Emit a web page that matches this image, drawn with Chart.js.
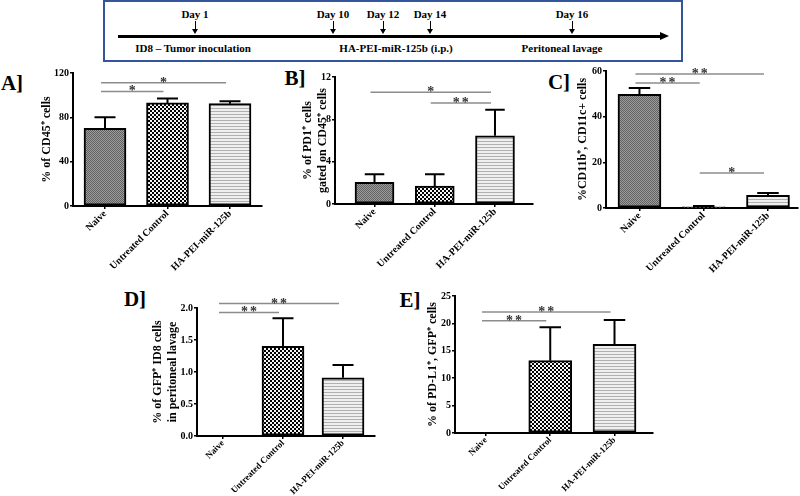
<!DOCTYPE html>
<html>
<head>
<meta charset="utf-8">
<script src="https://cdn.jsdelivr.net/npm/chart.js@4.4.1/dist/chart.umd.min.js"></script>
<style>
  html, body { margin: 0; padding: 0; background: #fff; }
  body { width: 800px; height: 496px; position: relative; overflow: hidden;
         font-family: "Liberation Serif", "Times New Roman", serif; font-weight: bold; color: #000; }
  canvas.panel { position: absolute; }
  .abs { position: absolute; white-space: nowrap; }
  .center { transform: translate(-50%, -50%); }
  .letter { font-size: 21px; line-height: 21px; }
  .tl-text { font-size: 11px; line-height: 12px; }
  #tlBox { left: 103px; top: 0; width: 580px; height: 62px; box-sizing: border-box; border: 2px solid #34559b; }
  #tlLine { left: 118px; top: 35px; width: 544px; height: 2.5px; background: #000; }
  #tlHead { left: 660px; top: 32px; width: 0; height: 0; border-left: 9px solid #000;
            border-top: 4.5px solid transparent; border-bottom: 4.5px solid transparent; }
  .tick-arrow { width: 1px; height: 9px; background: #000; top: 21px; }
  .tick-head { width: 0; height: 0; top: 29px; border-top: 5px solid #000;
               border-left: 3px solid transparent; border-right: 3px solid transparent; }
</style>
</head>
<body>
<div id="tlBox" class="abs"></div>
<div id="tlLine" class="abs"></div>
<div id="tlHead" class="abs"></div>
<div id="timeline"></div>

<div class="abs center letter" style="left:12px; top:83px;">A]</div>
<div class="abs center letter" style="left:295px; top:78px;">B]</div>
<div class="abs center letter" style="left:559px; top:82px;">C]</div>
<div class="abs center letter" style="left:135px; top:299px;">D]</div>
<div class="abs center letter" style="left:410px; top:300px;">E]</div>

<canvas id="chartA" class="panel"></canvas>
<canvas id="chartB" class="panel"></canvas>
<canvas id="chartC" class="panel"></canvas>
<canvas id="chartD" class="panel"></canvas>
<canvas id="chartE" class="panel"></canvas>

<script>
// ---- data ----
const categories = ['Naive', 'Untreated Control', 'HA-PEI-miR-125b'];

// timeline
const timelineDays = ['Day 1', 'Day 10', 'Day 12', 'Day 14', 'Day 16'];
const timelineSteps = ['ID8 \u2013 Tumor inoculation', 'HA-PEI-miR-125b (i.p.)', 'Peritoneal lavage'];

// A) % CD45+
const cd45Mean = [70, 93, 92.3];
const cd45Upper = [80, 97, 94.5];
const cd45Sig = [
  { from: 0, to: 2, y: 111.3, label: '*' },
  { from: 0, to: 1, y: 103.4, label: '*' }
];

// B) % PD1+ gated on CD45+
const pd1Mean = [2.05, 1.7, 6.45];
const pd1Upper = [2.8, 2.8, 8.9];
const pd1Sig = [
  { from: 0, to: 2, y: 10.55, label: '*' },
  { from: 1, to: 2, y: 9.55, label: '**' }
];

// C) % CD11b+, CD11c+
const cd11Mean = [49.8, 0.5, 5.5];
const cd11Upper = [52.6, 0.9, 6.6];
const cd11Sig = [
  { from: 0, to: 2, y: 58.7, label: '**' },
  { from: 0, to: 1, y: 54.7, label: '**' },
  { from: 1, to: 2, y: 15.3, label: '*' }
];

// D) % GFP+ ID8 cells in peritoneal lavage
const gfpMean = [0, 1.4, 0.91];
const gfpUpper = [null, 1.84, 1.11];
const gfpSig = [
  { from: 0, to: 2, y: 2.07, label: '**' },
  { from: 0, to: 1, y: 1.93, label: '**' }
];

// E) % PD-L1+, GFP+
const pdl1Mean = [0, 13.2, 16.2];
const pdl1Upper = [null, 19.3, 20.6];
const pdl1Sig = [
  { from: 0, to: 2, y: 22.1, label: '**' },
  { from: 0, to: 1, y: 20.5, label: '**' }
];

// ---- timeline (plain html) ----
const dayX = [195, 333, 383, 430, 572];
const stepX = [193, 396, 562];
const tl = document.getElementById('timeline');
timelineDays.forEach((d, i) => {
  tl.insertAdjacentHTML('beforeend',
    `<div class="abs center tl-text" style="left:${dayX[i]}px; top:14px;">${d}</div>` +
    `<div class="abs tick-arrow" style="left:${dayX[i] - 0.5}px;"></div>` +
    `<div class="abs tick-head" style="left:${dayX[i] - 3}px;"></div>`);
});
timelineSteps.forEach((s, i) => {
  tl.insertAdjacentHTML('beforeend',
    `<div class="abs center tl-text" style="left:${stepX[i]}px; top:48px;">${s}</div>`);
});

// ---- chart helpers ----
Chart.defaults.font.family = '"Liberation Serif", "Times New Roman", serif';
Chart.defaults.font.weight = 'bold';
Chart.defaults.color = '#000';

function makePattern(ctx, size, draw) {
  const c = document.createElement('canvas');
  c.width = c.height = size;
  draw(c.getContext('2d'));
  return ctx.createPattern(c, 'repeat');
}

function barFills(ctx) {
  const naive = makePattern(ctx, 2, g => {
    g.fillStyle = '#9c9c9c'; g.fillRect(0, 0, 2, 2);
    g.fillStyle = '#626262'; g.fillRect(0, 0, 1, 1); g.fillRect(1, 1, 1, 1);
  });
  const untreated = makePattern(ctx, 4, g => {
    g.fillStyle = '#f4f4f4'; g.fillRect(0, 0, 4, 4);
    g.fillStyle = '#000'; g.fillRect(0, 0, 2, 2); g.fillRect(2, 2, 2, 2);
  });
  const ha = makePattern(ctx, 3, g => {
    g.fillStyle = '#efefef'; g.fillRect(0, 0, 3, 3);
    g.fillStyle = '#b0b0b0'; g.fillRect(0, 0, 3, 1);
  });
  return [naive, untreated, ha];
}

// upper error bar: line from bar top to upper value, with a cap
const errorBarPlugin = {
  id: 'errorBars',
  afterDatasetsDraw(chart, args, opts) {
    const { ctx } = chart;
    const ys = chart.scales.y;
    const meta = chart.getDatasetMeta(0);
    ctx.save();
    ctx.strokeStyle = '#000';
    ctx.lineWidth = 2;
    opts.values.forEach((v, i) => {
      if (v == null) return;
      const bar = meta.data[i];
      const top = ys.getPixelForValue(v);
      const half = bar.width / 4;
      ctx.beginPath();
      ctx.moveTo(bar.x, bar.y);
      ctx.lineTo(bar.x, top);
      ctx.moveTo(bar.x - half, top);
      ctx.lineTo(bar.x + half, top);
      ctx.stroke();
    });
    ctx.restore();
  }
};

// significance brackets
const sigPlugin = {
  id: 'sigLines',
  afterDraw(chart, args, opts) {
    const { ctx } = chart;
    const xs = chart.scales.x, ys = chart.scales.y;
    ctx.save();
    opts.items.forEach(s => {
      const x1 = xs.getPixelForValue(s.from) - 4;
      const x2 = xs.getPixelForValue(s.to) - 4;
      const yy = ys.getPixelForValue(s.y);
      ctx.strokeStyle = '#8c8c8c';
      ctx.lineWidth = 1.5;
      ctx.beginPath();
      ctx.moveTo(x1, yy);
      ctx.lineTo(x2, yy);
      ctx.stroke();
      ctx.fillStyle = '#333';
      ctx.font = 'bold 14px "Liberation Serif", serif';
      ctx.textAlign = 'center';
      ctx.textBaseline = 'alphabetic';
      ctx.letterSpacing = '2px';
      ctx.fillText(s.label, (x1 + x2) / 2 + 1, yy + 4);
    });
    ctx.restore();
  }
};

const axisGrid = { display: true, drawOnChartArea: false, drawTicks: true, tickLength: 3, color: '#000', lineWidth: 1.5 };
const axisBorder = { display: true, color: '#000', width: 2 };

function buildPanel(id, p) {
  const canvas = document.getElementById(id);
  const [L, T, R, B] = p.canvas;
  const a = p.area;
  canvas.width = R - L; canvas.height = B - T;
  canvas.style.left = L + 'px'; canvas.style.top = T + 'px';
  canvas.style.width = (R - L) + 'px'; canvas.style.height = (B - T) + 'px';
  const ctx = canvas.getContext('2d');

  return new Chart(ctx, {
    type: 'bar',
    data: {
      datasets: [{
        data: p.means.map((v, i) => ({ x: i, y: v })),
        backgroundColor: barFills(ctx),
        borderColor: '#000',
        borderWidth: 2,
        borderSkipped: false,
        barThickness: p.barW
      }]
    },
    options: {
      responsive: false,
      animation: false,
      layout: { padding: { left: 0, top: a.t - T, right: R - a.r, bottom: 0 } },
      plugins: {
        legend: { display: false },
        tooltip: { enabled: false },
        errorBars: { values: p.upper },
        sigLines: { items: p.sig }
      },
      scales: {
        x: {
          type: 'linear',
          min: p.xMin, max: p.xMax,
          offset: false,
          grid: Object.assign({ offset: false }, axisGrid),
          border: axisBorder,
          afterBuildTicks: s => { s.ticks = categories.map((c, i) => ({ value: i })); },
          afterFit: s => { s.height = B - a.b; },
          ticks: {
            autoSkip: false, minRotation: 45, maxRotation: 45, padding: -1,
            font: { size: p.catSize, weight: 'bold' },
            callback: v => categories[v]
          }
        },
        y: {
          min: 0, max: p.yMax,
          grid: axisGrid,
          border: axisBorder,
          afterFit: s => { s.width = a.l - L; },
          ticks: {
            stepSize: p.step, padding: 1,
            font: { size: 10, weight: 'bold' },
            callback: p.fmt || (v => v)
          },
          title: {
            display: true, text: p.title,
            font: { size: 12, weight: 'bold' },
            padding: { top: p.titlePad, bottom: 0 }
          }
        }
      }
    },
    plugins: [errorBarPlugin, sigPlugin]
  });
}

buildPanel('chartA', {
  canvas: [0, 60, 270, 285], area: { l: 73, r: 262, t: 73, b: 206 },
  xMin: -0.512, xMax: 2.512, barW: 42, catSize: 10,
  yMax: 120, step: 40, means: cd45Mean, upper: cd45Upper, sig: cd45Sig,
  title: '% of CD45\u207A cells', titlePad: 40
});

buildPanel('chartB', {
  canvas: [270, 60, 545, 285], area: { l: 335, r: 533, t: 77, b: 204 },
  xMin: -0.656, xMax: 2.631, barW: 39, catSize: 10,
  yMax: 12, step: 4, means: pd1Mean, upper: pd1Upper, sig: pd1Sig,
  title: ['% of PD1\u207A cells', 'gated on CD45\u207A cells'], titlePad: 31
});

buildPanel('chartC', {
  canvas: [545, 55, 800, 290], area: { l: 606, r: 798, t: 71, b: 208 },
  xMin: -0.521, xMax: 2.467, barW: 43, catSize: 10,
  yMax: 60, step: 20, means: cd11Mean, upper: cd11Upper, sig: cd11Sig,
  title: '%CD11b\u207A, CD11c+ cells', titlePad: 31
});

buildPanel('chartD', {
  canvas: [140, 290, 395, 496], area: { l: 197, r: 375, t: 308, b: 436 },
  xMin: -0.433, xMax: 2.533, barW: 42, catSize: 9,
  yMax: 2, step: 0.5, means: gfpMean, upper: gfpUpper, sig: gfpSig,
  fmt: v => v.toFixed(1),
  title: ['% of GFP\u207A ID8 cells', 'in peritoneal lavage'], titlePad: 11
});

buildPanel('chartE', {
  canvas: [410, 285, 670, 496], area: { l: 455, r: 653, t: 296, b: 433 },
  xMin: -0.482, xMax: 2.599, barW: 43, catSize: 9,
  yMax: 25, step: 5, means: pdl1Mean, upper: pdl1Upper, sig: pdl1Sig,
  title: '% of PD-L1\u207A, GFP\u207A cells', titlePad: 16
});
</script>
</body>
</html>
